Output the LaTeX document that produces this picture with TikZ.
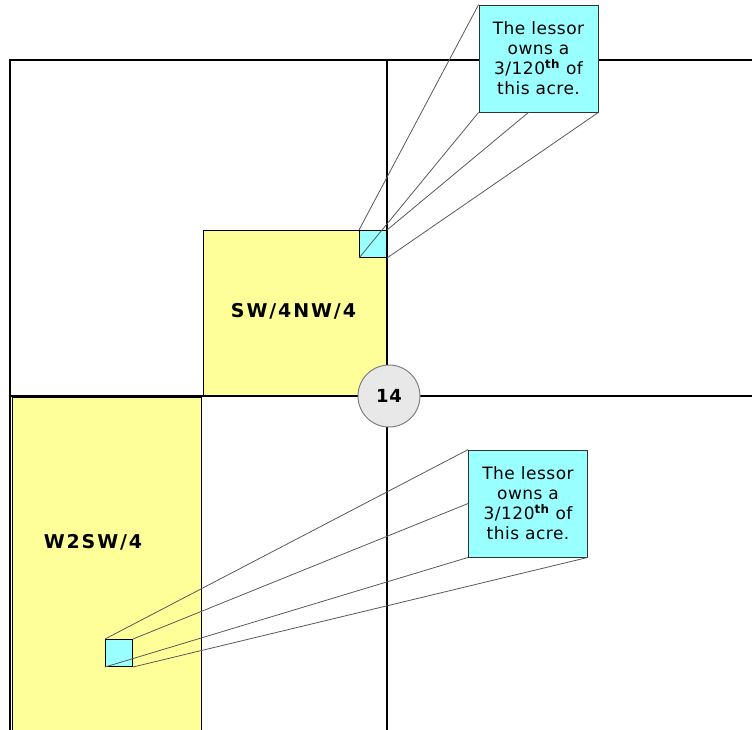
\documentclass[tikz,border=0pt]{standalone}
\usepackage{fontspec}
\setmainfont{DejaVu Sans}

\definecolor{tractyellow}{HTML}{FFFF99}
\definecolor{acrecyan}{HTML}{99FFFF}
\definecolor{sectiongray}{HTML}{E8E8E8}

\tikzset{
  tract/.style={draw=black, line width=1pt, fill=tractyellow},
  tractlabel/.style={font=\fontsize{19}{22}\selectfont\bfseries\addfontfeature{LetterSpace=10}},
  acre/.style={draw=black, line width=1pt, fill=acrecyan, minimum size=27pt, inner sep=0pt},
  note/.style={draw=black!80, line width=0.8pt, fill=acrecyan, minimum width=119pt,
    minimum height=107pt, align=center, inner sep=0pt,
    font=\fontsize{17}{20}\selectfont\addfontfeature{LetterSpace=3}},
  leader/.style={draw=black!65, line width=0.8pt},
}

\begin{document}
\begin{tikzpicture}[x=1pt, y=-1pt]
  \useasboundingbox (0,0) rectangle (752,729);
  % Tracts
  \draw[tract] (203,230) rectangle (387,396);
  \draw[tract] (12,397) rectangle (201,733);
  \draw[line width=2.5pt] (12,397) -- (201,397);
  % Section lines
  \draw[line width=1.1pt] (10,733) -- (10,60) -- (756,60);
  \draw[line width=1.1pt] (387,60) -- (387,733);
  \draw[line width=1.1pt] (10,396) -- (756,396);
  % Tract names
  \node[tractlabel] (nwlabel) at (293.5,311) {SW/4NW/4};
  \node[tractlabel] (swlabel) at (93,542) {W2SW/4};
  % Section number
  \node[circle, draw=gray, fill=sectiongray, line width=1pt, minimum size=62pt,
    font=\fontsize{18}{20}\selectfont\bfseries\addfontfeature{LetterSpace=5}] (section) at (389,396) {14};
  % Callouts
  \node[note] (topnote) at (538.5,58.5) {The lessor\\owns a\\3/120\textsuperscript{\bfseries th} of\\this acre.};
  \node[note] (botnote) at (528,503.5) {The lessor\\owns a\\3/120\textsuperscript{\bfseries th} of\\this acre.};
  \node[acre] (topacre) at (373,244) {};
  \node[acre] (botacre) at (119,653) {};
  % Leader lines
  \draw[leader] (topnote.north west) -- (topacre.north west);
  \draw[leader] (topnote.south west) -- (topacre.south west);
  \draw[leader] ([xshift=-10pt]topnote.south) -- (topacre.north east);
  \draw[leader] (topnote.south east) -- (topacre.south east);
  \draw[leader] (botnote.north west) -- (botacre.north west);
  \draw[leader] (botnote.west) -- (botacre.north east);
  \draw[leader] (botnote.south west) -- (botacre.south west);
  \draw[leader] (botnote.south east) -- (botacre.south east);
\end{tikzpicture}
\end{document}
